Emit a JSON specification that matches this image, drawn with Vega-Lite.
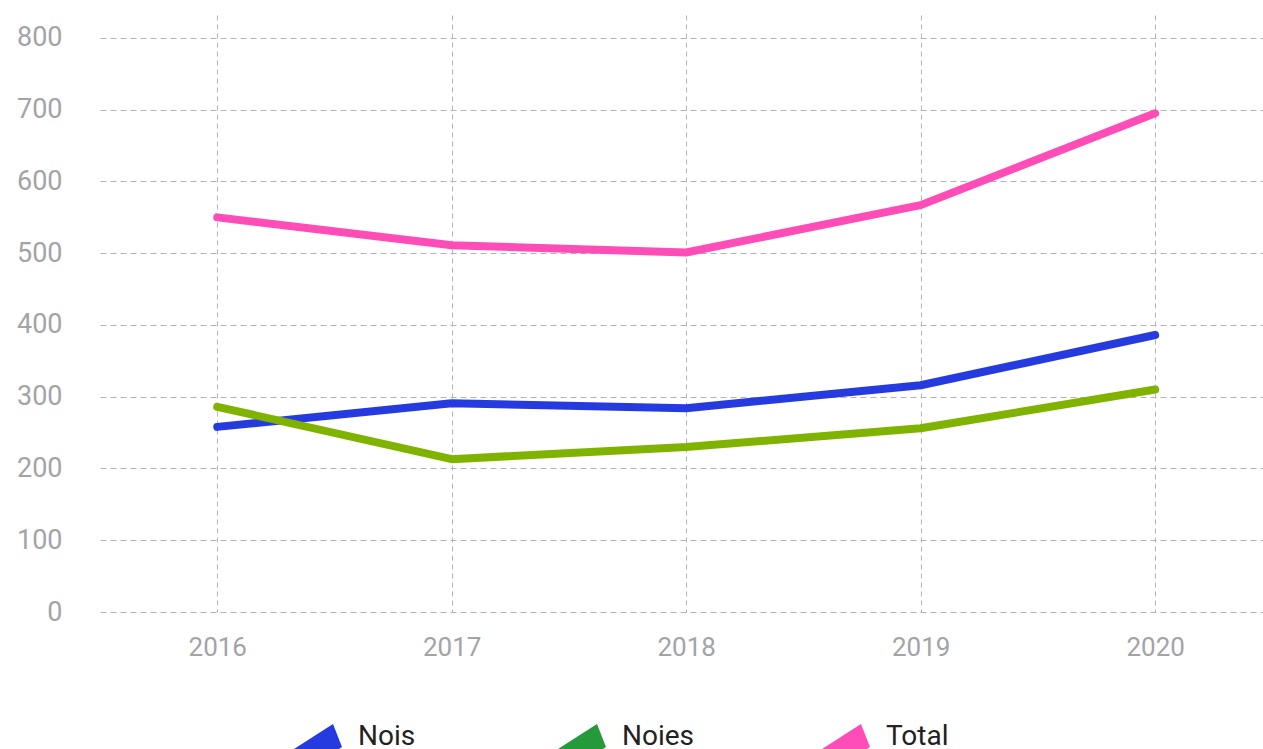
{
  "$schema": "https://vega.github.io/schema/vega-lite/v6.json",
  "width": 1163,
  "height": 597,
  "autosize": {"type": "none"},
  "padding": {"left": 100, "top": 15, "right": 0, "bottom": 137},
  "background": "white",
  "config": {"view": {"stroke": null}, "font": "Roboto"},
  "data": {
    "values": [
      {"year": 2016, "series": "Nois", "value": 258},
      {"year": 2017, "series": "Nois", "value": 291},
      {"year": 2018, "series": "Nois", "value": 284},
      {"year": 2019, "series": "Nois", "value": 316},
      {"year": 2020, "series": "Nois", "value": 386},
      {"year": 2016, "series": "Noies", "value": 286},
      {"year": 2017, "series": "Noies", "value": 213},
      {"year": 2018, "series": "Noies", "value": 230},
      {"year": 2019, "series": "Noies", "value": 256},
      {"year": 2020, "series": "Noies", "value": 310},
      {"year": 2016, "series": "Total", "value": 550},
      {"year": 2017, "series": "Total", "value": 511},
      {"year": 2018, "series": "Total", "value": 501},
      {"year": 2019, "series": "Total", "value": 567},
      {"year": 2020, "series": "Total", "value": 695}
    ]
  },
  "layer": [
    {
      "mark": {"type": "point", "filled": true, "opacity": 0, "strokeWidth": 0},
      "encoding": {
        "x": {"field": "year", "type": "quantitative"},
        "y": {"field": "value", "type": "quantitative"},
        "fill": {
          "field": "series", "type": "nominal",
          "scale": {"domain": ["Nois", "Noies", "Total"], "range": ["#253be0", "#259a3a", "#ff4db8"]},
          "legend": {
            "title": null, "orient": "none", "legendX": 193, "legendY": 697,
            "direction": "horizontal", "columns": 3, "gridAlign": "all", "columnPadding": 126,
            "padding": 0, "symbolSize": 2500,
            "symbolType": "M-0.96,0.48L0.6,-0.52L0.96,0.4L-0.6,1.4Z",
            "symbolStrokeWidth": 0, "symbolOpacity": 1, "symbolFillColor": null,
            "labelFontSize": 28, "labelColor": "#222222", "labelOffset": 15, "labelFont": "Roboto"
          }
        }
      }
    },
    {
      "mark": {"type": "line", "strokeWidth": 8, "strokeCap": "round", "strokeJoin": "round"},
      "encoding": {
        "x": {
          "field": "year", "type": "quantitative",
          "scale": {"domain": [2015.5, 2020.46], "nice": false, "zero": false},
          "axis": {
            "title": null, "values": [2016, 2017, 2018, 2019, 2020], "format": "d", "labelAngle": 0,
            "grid": true, "gridDash": [5, 4], "gridColor": "#b3b3b3", "gridWidth": 1,
            "domain": false, "ticks": false, "labelPadding": 22, "labelFontSize": 26, "labelColor": "#a3a3a8", "labelFont": "Roboto", "labelFlush": false, "labelOverlap": false
          }
        },
        "y": {
          "field": "value", "type": "quantitative",
          "scale": {"domain": [0, 832], "nice": false},
          "axis": {
            "title": null, "values": [0, 100, 200, 300, 400, 500, 600, 700, 800],
            "grid": true, "gridDash": [6, 4], "gridColor": "#b3b3b3", "gridWidth": 1,
            "domain": false, "ticks": false, "labelPadding": 38, "labelFontSize": 27, "labelColor": "#a3a3a8", "labelFont": "Roboto"
          }
        },
        "stroke": {
          "field": "series", "type": "nominal",
          "scale": {"domain": ["Nois", "Noies", "Total"], "range": ["#253be0", "#80b300", "#ff4db8"]},
          "legend": null
        }
      }
    }
  ]
}
